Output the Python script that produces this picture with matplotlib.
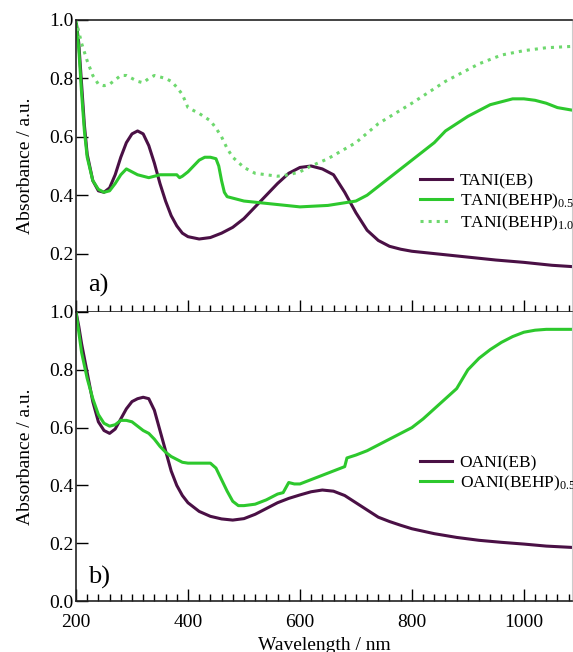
#!/usr/bin/env python3
"""UV-vis absorbance spectra of TANI / OANI, two stacked panels."""

import matplotlib.pyplot as plt
from matplotlib.ticker import MultipleLocator

plt.rcParams['font.family'] = ['Liberation Serif', 'DejaVu Serif']
plt.rcParams['mathtext.fontset'] = 'custom'
plt.rcParams['mathtext.rm'] = 'Liberation Serif'
plt.rcParams['mathtext.it'] = 'Liberation Serif:italic'

# ---- panel a) TANI ----
wl_tani_eb = [200, 205, 210, 215, 220, 230, 240, 250, 260, 270, 280, 290, 300, 310,
              320, 330, 340, 350, 360, 370, 380, 390, 400, 420, 440, 460, 480, 500,
              520, 540, 560, 580, 600, 620, 640, 660, 680, 690, 700, 720, 740, 760,
              780, 800, 850, 900, 950, 1000, 1050, 1090]
abs_tani_eb = [1.0, 0.92, 0.78, 0.64, 0.54, 0.45, 0.415, 0.41, 0.425, 0.47, 0.53, 0.58,
               0.61, 0.62, 0.61, 0.57, 0.51, 0.44, 0.38, 0.33, 0.295, 0.27, 0.258, 0.25,
               0.255, 0.27, 0.29, 0.32, 0.36, 0.40, 0.44, 0.475, 0.495, 0.50, 0.49,
               0.47, 0.41, 0.375, 0.34, 0.28, 0.245, 0.225, 0.215, 0.208, 0.198, 0.188,
               0.178, 0.17, 0.16, 0.155]

wl_tani_05 = [200, 205, 210, 215, 220, 230, 240, 250, 260, 270, 280, 290, 300, 310, 320,
              330, 340, 350, 360, 370, 380, 385, 390, 400, 410, 420, 430, 440, 450, 455,
              460, 465, 470, 480, 500, 550, 600, 650, 700, 720, 740, 760, 780, 800, 820,
              840, 860, 880, 900, 920, 940, 960, 980, 1000, 1020, 1040, 1060, 1090]
abs_tani_05 = [1.0, 0.9, 0.75, 0.62, 0.53, 0.45, 0.42, 0.41, 0.415, 0.44, 0.47, 0.49,
               0.48, 0.47, 0.465, 0.46, 0.465, 0.47, 0.47, 0.47, 0.47, 0.46, 0.465, 0.48,
               0.50, 0.52, 0.53, 0.53, 0.525, 0.50, 0.45, 0.41, 0.395, 0.39, 0.38, 0.37,
               0.36, 0.365, 0.38, 0.40, 0.43, 0.46, 0.49, 0.52, 0.55, 0.58, 0.62, 0.645,
               0.67, 0.69, 0.71, 0.72, 0.73, 0.73, 0.725, 0.715, 0.70, 0.69]

wl_tani_10 = [200, 210, 220, 230, 240, 250, 260, 270, 280, 290, 300, 310, 320, 330, 340,
              350, 360, 370, 380, 390, 400, 420, 440, 450, 460, 470, 480, 500, 520, 540,
              560, 580, 600, 620, 650, 700, 740, 800, 860, 920, 960, 1000, 1040, 1090]
abs_tani_10 = [1.0, 0.92, 0.86, 0.81, 0.78, 0.775, 0.78, 0.795, 0.81, 0.81, 0.80, 0.79,
               0.785, 0.80, 0.81, 0.805, 0.80, 0.79, 0.77, 0.745, 0.70, 0.68, 0.655,
               0.63, 0.60, 0.56, 0.53, 0.495, 0.475, 0.47, 0.465, 0.47, 0.48, 0.50,
               0.525, 0.58, 0.645, 0.715, 0.79, 0.85, 0.88, 0.895, 0.905, 0.91]

# ---- panel b) OANI ----
wl_oani_eb = [200, 205, 210, 220, 230, 240, 250, 260, 270, 280, 290, 300, 310, 320, 330,
              340, 350, 360, 370, 380, 390, 400, 420, 440, 460, 480, 500, 520, 540, 560,
              580, 600, 620, 640, 660, 680, 700, 720, 740, 760, 780, 800, 840, 880, 920,
              960, 1000, 1040, 1090]
abs_oani_eb = [1.0, 0.95, 0.89, 0.79, 0.69, 0.62, 0.59, 0.58, 0.595, 0.63, 0.665, 0.69,
               0.70, 0.705, 0.70, 0.66, 0.59, 0.52, 0.45, 0.40, 0.365, 0.34, 0.31, 0.293,
               0.284, 0.28, 0.285, 0.30, 0.32, 0.34, 0.355, 0.367, 0.378, 0.384, 0.38,
               0.365, 0.34, 0.315, 0.29, 0.275, 0.262, 0.25, 0.233, 0.22, 0.21, 0.203,
               0.197, 0.19, 0.185]

wl_oani_05 = [200, 205, 210, 220, 230, 240, 250, 260, 270, 280, 290, 300, 310, 320, 330,
              340, 350, 360, 370, 380, 390, 400, 420, 440, 450, 460, 470, 480, 490, 500,
              520, 540, 560, 570, 580, 590, 600, 620, 640, 660, 680, 684, 700, 720, 740,
              760, 780, 800, 820, 840, 860, 880, 900, 920, 940, 960, 980, 1000, 1020,
              1040, 1090]
abs_oani_05 = [1.0, 0.93, 0.86, 0.77, 0.70, 0.645, 0.615, 0.605, 0.61, 0.625, 0.625,
               0.62, 0.605, 0.59, 0.58, 0.56, 0.535, 0.515, 0.50, 0.49, 0.48, 0.477,
               0.477, 0.477, 0.46, 0.42, 0.38, 0.345, 0.33, 0.33, 0.335, 0.35, 0.37,
               0.375, 0.41, 0.405, 0.405, 0.42, 0.435, 0.45, 0.465, 0.495, 0.505, 0.52,
               0.54, 0.56, 0.58, 0.60, 0.63, 0.665, 0.70, 0.735, 0.80, 0.84, 0.87, 0.895,
               0.915, 0.93, 0.937, 0.94, 0.94]

purple = '#4a1045'
green = '#2dc82d'
light_green = '#6ed86e'

W, H = 573, 652
fig = plt.figure(figsize=(W / 100, H / 100), dpi=100)
left = 76 / W
width = 496 / W
ax_a = fig.add_axes([left, (H - 312) / H, width, 292 / H])
ax_b = fig.add_axes([left, (H - 601) / H, width, 289 / H])

ax_a.plot(wl_tani_eb, abs_tani_eb, color=purple, lw=2.2, label='TANI(EB)')
ax_a.plot(wl_tani_05, abs_tani_05, color=green, lw=2.2, label='TANI(BEHP)$_{0.5}$')
ax_a.plot(wl_tani_10, abs_tani_10, color=light_green, lw=2.2, ls=':',
          label='TANI(BEHP)$_{1.0}$')

ax_b.plot(wl_oani_eb, abs_oani_eb, color=purple, lw=2.2, label='OANI(EB)')
ax_b.plot(wl_oani_05, abs_oani_05, color=green, lw=2.2, label='OANI(BEHP)$_{0.5}$')

for ax in (ax_a, ax_b):
    ax.set_xlim(200, 1086)
    ax.set_ylim(0, 1.0)
    ax.set_ylabel('Absorbance / a.u.', fontsize=14)
    ax.yaxis.set_label_coords(-0.085, 0.5)
    ax.xaxis.set_major_locator(MultipleLocator(200))
    ax.xaxis.set_minor_locator(MultipleLocator(20))
    ax.tick_params(axis='x', which='major', direction='in', length=8.5, width=1,
                   labelsize=14, pad=9.5)
    ax.tick_params(axis='x', which='minor', direction='in', length=5, width=1)
    ax.tick_params(axis='y', direction='in', length=8.5, width=1, labelsize=14,
                   pad=1.5)
    for side in ('left', 'bottom', 'top'):
        ax.spines[side].set_color('#222222')
        ax.spines[side].set_linewidth(1.2)
    ax.spines['right'].set_color('#cccccc')
    ax.legend(loc='center left', frameon=False, fontsize=12.5, handlelength=1.8,
              handletextpad=0.45, labelspacing=0.15, borderpad=0.2)

ax_a.set_yticks([0.2, 0.4, 0.6, 0.8, 1.0])
ax_a.tick_params(axis='x', labelbottom=False)
ax_a.get_legend().set_bbox_to_anchor((0.67, 0.374))
ax_a.text(0.025, 0.07, 'a)', transform=ax_a.transAxes, fontsize=19)

ax_b.set_yticks([0.0, 0.2, 0.4, 0.6, 0.8, 1.0])
ax_b.spines['top'].set_visible(False)
ax_b.set_xlabel('Wavelength / nm', fontsize=14, labelpad=4)
ax_b.get_legend().set_bbox_to_anchor((0.67, 0.44))
ax_b.text(0.025, 0.06, 'b)', transform=ax_b.transAxes, fontsize=19)

fig.savefig('out.png', dpi=100)
plt.close(fig)
